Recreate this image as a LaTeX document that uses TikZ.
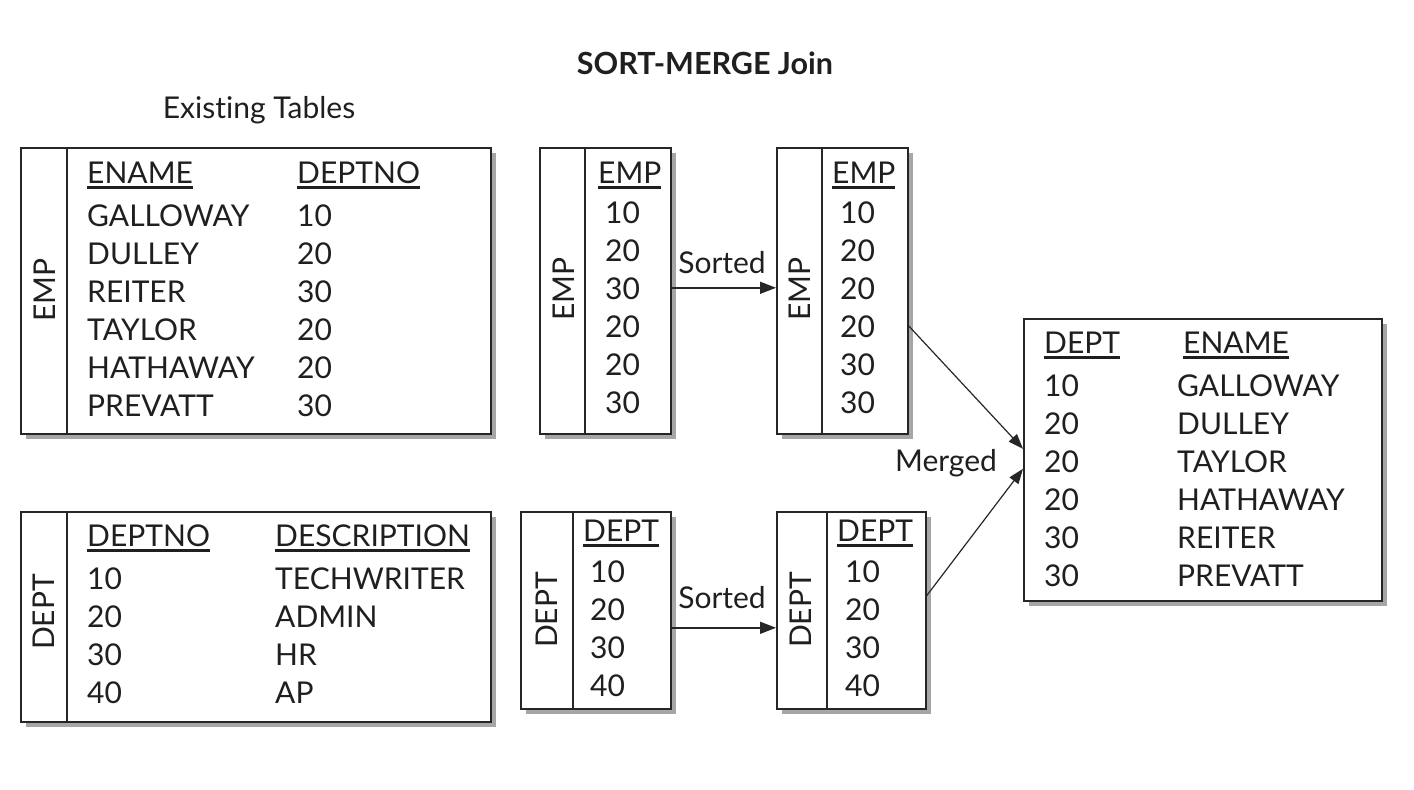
\documentclass[tikz,border=0pt]{standalone}
\usepackage{fontspec}
\setmainfont{Lato}[Ligatures=NoCommon]
\usetikzlibrary{arrows.meta,calc,shadows}
\newcommand{\hdul}[1]{\setbox0\hbox{#1}\rlap{\rule[-5.5pt]{\wd0}{3pt}}\box0}
\begin{document}
\begin{tikzpicture}[x=1pt,y=-1pt,
  tbl/.style={draw=black!85, line width=1.6pt, fill=white, inner sep=0pt, anchor=north west,
    drop shadow={shadow xshift=5pt, shadow yshift=-5pt, fill=black!35, opacity=1}},
  divl/.style={draw=black!85, line width=1.6pt},
  txt/.style={inner sep=0pt, text=black!88, font=\fontsize{30}{38}\selectfont},
  hdr/.style={txt, anchor=west, text height=21.5pt, text depth=0pt},
  col/.style={txt, anchor=north west, align=left},
  vlbl/.style={txt, rotate=90, anchor=center},
  lbl/.style={txt, anchor=center},
  arr/.style={draw=black!85, line width=1.5pt, -{Triangle[length=16pt,width=12pt]}},
  marr/.style={draw=black!85, line width=1.2pt, -{Triangle[length=15pt,width=11pt]}},
]
\useasboundingbox (0,0) rectangle (1414,790);

% titles
\node[lbl, font=\fontsize{30.5}{34}\selectfont\bfseries] (title) at (705,63) {SORT-MERGE Join};
\node[lbl] (exist) at (259,110) {Existing Tables};

% existing EMP table
\node[tbl, minimum width=470pt, minimum height=286pt] (empT) at (20,147) {};
\draw[divl] ($(empT.north west)+(47,0)$) -- ($(empT.south west)+(47,0)$);
\node[vlbl] (empTl) at (45,290) {EMP};
\node[hdr] (empTh1) at (87,173) {\hdul{ENAME}};
\node[hdr] (empTh2) at (297,173) {\hdul{DEPTNO}};
\node[col] (empTc1) at (87,204.25) {GALLOWAY\\DULLEY\\REITER\\TAYLOR\\HATHAWAY\\PREVATT};
\node[col] (empTc2) at (297,204.25) {10\\20\\30\\20\\20\\30};

% existing DEPT table
\node[tbl, minimum width=470pt, minimum height=210pt] (depT) at (20,511) {};
\draw[divl] ($(depT.north west)+(47,0)$) -- ($(depT.south west)+(47,0)$);
\node[vlbl] (depTl) at (44,612) {DEPT};
\node[hdr] (depTh1) at (87,536) {\hdul{DEPTNO}};
\node[hdr] (depTh2) at (275,536) {\hdul{DESCRIPTION}};
\node[col] (depTc1) at (87,567.25) {10\\20\\30\\40};
\node[col] (depTc2) at (275,567.25) {TECHWRITER\\ADMIN\\HR\\AP};

% EMP unsorted
\node[tbl, minimum width=131pt, minimum height=286pt] (eu) at (539,147) {};
\draw[divl] ($(eu.north west)+(46,0)$) -- ($(eu.south west)+(46,0)$);
\node[vlbl] (eul) at (564,289) {EMP};
\node[hdr] (euh) at (598,173) {\hdul{EMP}};
\node[col] (euc) at (605,201.25) {10\\20\\30\\20\\20\\30};

% EMP sorted
\node[tbl, minimum width=131pt, minimum height=286pt] (es) at (776,147) {};
\draw[divl] ($(es.north west)+(46,0)$) -- ($(es.south west)+(46,0)$);
\node[vlbl] (esl) at (800,289) {EMP};
\node[hdr] (esh) at (832,173) {\hdul{EMP}};
\node[col] (esc) at (840,201.25) {10\\20\\20\\20\\30\\30};

% DEPT unsorted
\node[tbl, minimum width=150pt, minimum height=197pt] (du) at (520,511) {};
\draw[divl] ($(du.north west)+(53,0)$) -- ($(du.south west)+(53,0)$);
\node[vlbl] (dul) at (547,610) {DEPT};
\node[hdr] (duh) at (583,531) {\hdul{DEPT}};
\node[col] (duc) at (590,560.25) {10\\20\\30\\40};

% DEPT sorted
\node[tbl, minimum width=149pt, minimum height=197pt] (ds) at (776,511) {};
\draw[divl] ($(ds.north west)+(51,0)$) -- ($(ds.south west)+(51,0)$);
\node[vlbl] (dsl) at (801,610) {DEPT};
\node[hdr] (dsh) at (837,531) {\hdul{DEPT}};
\node[col] (dsc) at (845,560.25) {10\\20\\30\\40};

% result
\node[tbl, minimum width=358pt, minimum height=282pt] (res) at (1023,318) {};
\node[hdr] (resh1) at (1044,343) {\hdul{DEPT}};
\node[hdr] (resh2) at (1183,343) {\hdul{ENAME}};
\node[col] (resc1) at (1044,374.25) {10\\20\\20\\20\\30\\30};
\node[col] (resc2) at (1177,374.25) {GALLOWAY\\DULLEY\\TAYLOR\\HATHAWAY\\REITER\\PREVATT};

% arrows
\draw[arr] ($(eu.east)+(0,-3)$) -- ($(es.west)+(0,-3)$);
\node[lbl] (sort1) at (722,263) {Sorted};
\draw[arr] ($(du.east)+(0,17.5)$) -- ($(ds.west)+(0,17.5)$);
\node[lbl] (sort2) at (722,598) {Sorted};
\draw[marr] ($(es.east)+(0,35)$) -- ($(res.west)+(0,-11)$);
\draw[marr] ($(ds.east)+(0,-14.5)$) -- ($(res.west)+(0,9)$);
\node[lbl] (merged) at (946,463) {Merged};
\end{tikzpicture}
\end{document}
